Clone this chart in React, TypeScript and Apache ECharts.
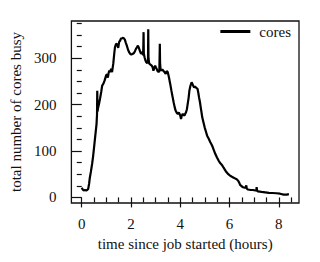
import React, { useEffect, useRef } from "react";
import * as echarts from "echarts";

const hours = [0, 0.04, 0.08, 0.13, 0.18, 0.22, 0.26, 0.30, 0.33, 0.37, 0.42, 0.46, 0.50, 0.55, 0.60, 0.62, 0.63, 0.64, 0.66, 0.70, 0.74, 0.79, 0.83, 0.88, 0.93, 0.99, 1.03, 1.06, 1.09, 1.12, 1.16, 1.19, 1.23, 1.28, 1.32, 1.35, 1.39, 1.42, 1.45, 1.48, 1.52, 1.56, 1.59, 1.64, 1.68, 1.72, 1.75, 1.79, 1.83, 1.88, 1.92, 1.97, 2.01, 2.06, 2.12, 2.16, 2.20, 2.24, 2.28, 2.32, 2.35, 2.41, 2.46, 2.49, 2.50, 2.51, 2.52, 2.55, 2.58, 2.62, 2.66, 2.69, 2.70, 2.71, 2.74, 2.79, 2.84, 2.88, 2.91, 2.95, 2.98, 3.01, 3.04, 3.08, 3.12, 3.15, 3.16, 3.17, 3.18, 3.20, 3.23, 3.27, 3.31, 3.36, 3.41, 3.45, 3.49, 3.54, 3.59, 3.64, 3.69, 3.73, 3.77, 3.81, 3.86, 3.90, 3.94, 3.97, 4.00, 4.03, 4.06, 4.10, 4.13, 4.17, 4.20, 4.23, 4.27, 4.30, 4.34, 4.37, 4.41, 4.46, 4.49, 4.52, 4.56, 4.60, 4.65, 4.70, 4.73, 4.76, 4.80, 4.83, 4.86, 4.89, 4.94, 4.99, 5.04, 5.09, 5.15, 5.22, 5.27, 5.32, 5.37, 5.42, 5.49, 5.56, 5.62, 5.69, 5.76, 5.82, 5.88, 5.95, 6.02, 6.08, 6.15, 6.22, 6.29, 6.35, 6.40, 6.43, 6.49, 6.55, 6.62, 6.66, 6.68, 6.70, 6.75, 6.85, 6.95, 7.05, 7.09, 7.10, 7.12, 7.16, 7.30, 7.45, 7.60, 7.75, 7.90, 8.05, 8.20, 8.32, 8.41];

const cores = [21, 17, 15, 16, 15, 16, 18, 30, 43, 55, 72, 88, 108, 133, 158, 178, 230, 185, 192, 201, 212, 227, 241, 245, 252, 263, 265, 258, 268, 273, 270, 277, 270, 288, 310, 324, 330, 331, 327, 322, 335, 338, 342, 343, 344, 342, 340, 333, 327, 318, 313, 309, 308, 309, 311, 315, 320, 323, 327, 322, 317, 309, 313, 306, 325, 356, 310, 302, 296, 291, 289, 295, 362, 300, 288, 286, 284, 280, 273, 280, 284, 280, 277, 272, 270, 272, 300, 331, 290, 275, 273, 276, 273, 270, 266, 272, 270, 259, 245, 230, 216, 205, 195, 187, 182, 180, 183, 180, 176, 169, 176, 180, 178, 176, 180, 183, 190, 201, 215, 230, 240, 248, 245, 241, 237, 239, 236, 234, 226, 216, 205, 194, 184, 173, 162, 151, 142, 133, 127, 119, 114, 108, 101, 94, 86, 79, 74, 70, 64, 59, 54, 50, 47, 45, 43, 41, 39, 36, 31, 27, 24, 22, 21, 22, 26, 19, 17, 16, 16, 15, 16, 22, 14, 13, 12, 11, 10, 9.5, 9, 8, 6, 6, 7];

const xMajorTicks = [0, 2, 4, 6, 8];
const xMinorTicks = [0.5, 1, 1.5, 2.5, 3, 3.5, 4.5, 5, 5.5, 6.5, 7, 7.5, 8.5];
const yMajorTicks = [0, 100, 200, 300];
const yMinorTicks = [25, 50, 75, 125, 150, 175, 225, 250, 275, 325, 350, 375];

const FONT = "Liberation Serif";

export default function App() {
  const ref = useRef<HTMLDivElement>(null);
  useEffect(() => {
    if (!ref.current) return;
    const chart = echarts.init(ref.current, undefined, { renderer: "svg" });
    const xMin = -0.42, xMax = 8.82, yMin = -12, yMax = 380;
    const tickStyle = { color: "#111", width: 1.2 };
    chart.setOption({
      animation: false,
      backgroundColor: "#fff",
      textStyle: { fontFamily: FONT },
      grid: {
        left: 66, right: 21, top: 21, bottom: 59,
        show: true, borderColor: "#111", borderWidth: 1.3, backgroundColor: "transparent",
      },
      legend: {
        data: ["cores"],
        right: 29, top: 24, padding: 0,
        icon: "rect", itemWidth: 30, itemHeight: 3, itemGap: 10,
        textStyle: { fontFamily: FONT, fontSize: 15, color: "#111", padding: [0, 0, 0, 4] },
      },
      xAxis: [
        {
          type: "value", min: xMin, max: xMax,
          axisLine: { show: false },
          splitLine: { show: false },
          axisTick: { show: true, inside: false, length: 10, lineStyle: tickStyle, customValues: xMajorTicks },
          axisLabel: { show: true, customValues: xMajorTicks, margin: 13, fontSize: 15, color: "#111", fontFamily: FONT },
          name: "time since job started (hours)", nameLocation: "middle", nameGap: 33,
          nameTextStyle: { fontSize: 15, color: "#111", fontFamily: FONT },
        },
        {
          type: "value", min: xMin, max: xMax, position: "bottom",
          axisLine: { show: false }, splitLine: { show: false },
          axisTick: { show: true, inside: false, length: 5, lineStyle: tickStyle, customValues: xMinorTicks },
          axisLabel: { show: false },
        },
      ],
      yAxis: [
        {
          type: "value", min: yMin, max: yMax,
          axisLine: { show: false }, splitLine: { show: false },
          axisTick: { show: true, inside: false, length: 10, lineStyle: tickStyle, customValues: yMajorTicks },
          axisLabel: { show: true, customValues: yMajorTicks, margin: 15, fontSize: 15, color: "#111", fontFamily: FONT },
          name: "total number of cores busy", nameLocation: "middle", nameGap: 41,
          nameTextStyle: { fontSize: 15, color: "#111", fontFamily: FONT },
        },
        {
          type: "value", min: yMin, max: yMax, position: "left",
          axisLine: { show: false }, splitLine: { show: false },
          axisTick: { show: true, inside: false, length: 5, lineStyle: tickStyle, customValues: yMinorTicks },
          axisLabel: { show: false },
        },
      ],
      series: [
        {
          name: "cores", type: "line", xAxisIndex: 0, yAxisIndex: 0,
          data: hours.map((h, i) => [h, cores[i]]),
          showSymbol: false, symbol: "none",
          lineStyle: { color: "#000", width: 2.2 },
          itemStyle: { color: "#000" },
        },
      ],
    });
    return () => chart.dispose();
  }, []);
  return <div ref={ref} style={{ position: "fixed", left: 0, top: 0, width: 320, height: 262, background: "#fff" }} />;
}
